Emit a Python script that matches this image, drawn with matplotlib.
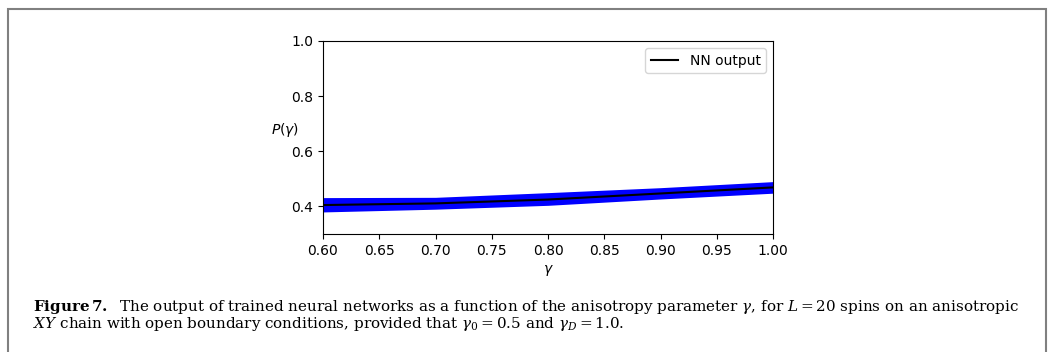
import matplotlib
matplotlib.use("Agg")
import matplotlib.pyplot as plt
from matplotlib.patches import Rectangle

# NN output vs anisotropy parameter
gamma = [0.6, 0.7, 0.8, 0.9, 1.0]
nn_output = [0.405, 0.411, 0.425, 0.447, 0.469]
band_upper = [0.432, 0.433, 0.450, 0.468, 0.490]
band_lower = [0.380, 0.390, 0.404, 0.427, 0.448]

x_ticks = [0.60, 0.65, 0.70, 0.75, 0.80, 0.85, 0.90, 0.95, 1.00]
y_ticks = [0.4, 0.6, 0.8, 1.0]

caption = (r"$\mathbf{Figure\,7.}$  The output of trained neural networks as a function "
           r"of the anisotropy parameter $\gamma$, for $L = 20$ spins on an anisotropic" "\n"
           r"$XY$ chain with open boundary conditions, provided that "
           r"$\gamma_0 = 0.5$ and $\gamma_D = 1.0$.")

plt.rcParams['mathtext.fontset'] = 'dejavusans'
plt.rcParams['mathtext.rm'] = 'DejaVu Serif'
plt.rcParams['mathtext.it'] = 'DejaVu Serif:italic'
plt.rcParams['mathtext.bf'] = 'DejaVu Serif:bold'

fig = plt.figure(figsize=(10.49, 3.52), dpi=100)
ax = fig.add_axes([323 / 1049, 1 - 234 / 352, 450 / 1049, 193 / 352])

ax.fill_between(gamma, band_lower, band_upper, color='blue', linewidth=0)
ax.plot(gamma, nn_output, color='black', linewidth=1.5, label='NN output')

ax.set_xlim(0.6, 1.0)
ax.set_ylim(0.3, 1.0)
ax.set_xticks(x_ticks)
ax.set_yticks(y_ticks)
ax.tick_params(labelsize=10)
ax.set_xlabel(r'$\gamma$', fontsize=10)
ax.set_ylabel(r'$P(\gamma)$', fontsize=10, rotation=0, ha='right', va='center')
ax.yaxis.set_label_coords(-0.052, 0.54)
ax.legend(loc='upper right', fontsize=10)

# caption under the plot
fig.text(33 / 1049, 1 - 333 / 352, caption, fontsize=10.9,
         family='DejaVu Serif', math_fontfamily='custom', va='bottom',
         linespacing=0.95)

# gray frame around the figure
fig.patches.append(Rectangle((8 / 1049, -0.05), (1046 - 8) / 1049, 1.05 - 9 / 352,
                             transform=fig.transFigure, fill=False,
                             edgecolor='#808080', linewidth=1.5))

fig.savefig('out.png', dpi=100)
